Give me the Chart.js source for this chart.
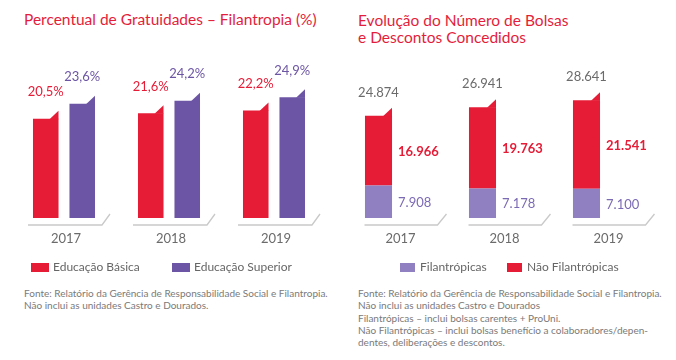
<!DOCTYPE html>
<html>
<head>
<meta charset="utf-8">
<script src="https://cdn.jsdelivr.net/npm/chart.js@4.4.1/dist/chart.umd.min.js"></script>
<style>
  body { margin: 0; width: 676px; height: 360px; background: #fff; position: relative; overflow: hidden; font-family: Lato, "Open Sans", sans-serif; }
  .abs { position: absolute; white-space: nowrap; }
  .title { color: #e31d3b; font-size: 15.5px; line-height: 17px; }
  .leg { font-size: 12px; line-height: 14px; color: #666; }
  .sw { position: absolute; width: 18px; height: 9px; }
  .note { color: #7a7a7a; font-size: 10px; line-height: 12.3px; }
  canvas { position: absolute; top: 0; }
</style>
</head>
<body>
<div class="abs title" style="left:24px;top:11px">Percentual de Gratuidades – Filantropia (%)</div>
<div class="abs title" style="left:358px;top:12px">Evolução do Número de Bolsas<br>e Descontos Concedidos</div>

<canvas id="left" width="338" height="260" style="left:0"></canvas>
<canvas id="right" width="356" height="260" style="left:320px"></canvas>

<!-- legends -->
<div class="sw" style="left:31px;top:263px;background:#e61b36"></div>
<div class="abs leg" style="left:53px;top:260px">Educação Básica</div>
<div class="sw" style="left:172px;top:263px;background:#6c55a4"></div>
<div class="abs leg" style="left:194px;top:260px">Educação Superior</div>

<div class="sw" style="left:400px;top:263px;width:15px;background:#9080c2"></div>
<div class="abs leg" style="left:420px;top:260px">Filantrópicas</div>
<div class="sw" style="left:507px;top:263px;width:15px;background:#e61b36"></div>
<div class="abs leg" style="left:527px;top:260px">Não Filantrópicas</div>

<!-- footnotes -->
<div class="abs note" style="left:24px;top:287px">Fonte: Relatório da Gerência de Responsabilidade Social e Filantropia.<br>Não inclui as unidades Castro e Dourados.</div>
<div class="abs note" style="left:358px;top:287px">Fonte: Relatório da Gerência de Responsabilidade Social e Filantropia.<br>Não inclui as unidades Castro e Dourados<br>Filantrópicas – inclui bolsas carentes + ProUni.<br>Não Filantrópicas – inclui bolsas benefício a colaboradores/depen-<br>dentes, deliberações e descontos.</div>

<script>
// ── Data ──────────────────────────────────────────────────────────────────
const YEARS = ['2017', '2018', '2019'];

const EDU_BASICA   = [20.5, 21.6, 22.2];
const EDU_SUPERIOR = [23.6, 24.2, 24.9];

const FILANTROPICAS     = [7908, 7178, 7100];
const NAO_FILANTROPICAS = [16966, 19763, 21541];
const TOTAIS            = [24874, 26941, 28641];

// ── Style ─────────────────────────────────────────────────────────────────
const RED     = '#e61b36';
const PURPLE  = '#6c55a4';
const LILAC   = '#9080c2';
const GRAY    = '#6b6b6b';
const LINE    = '#c9c9c9';
const FONT    = 'Lato, "Open Sans", sans-serif';

const pct = v => v.toFixed(1).replace('.', ',') + '%';
const milhar = v => String(v).replace(/\B(?=(\d{3})+(?!\d))/g, '.');

// baseline under each year with the little slanted end, plus the folded corner on bar tops
function drawBase(chart, from, to, slant) {
  const { ctx, chartArea } = chart;
  const xs = chart.scales.x;
  const y = chartArea.bottom + 7;
  ctx.save();
  ctx.strokeStyle = LINE;
  ctx.lineWidth = 1.3;
  YEARS.forEach((_, i) => {
    const cx = xs.getPixelForValue(i);
    ctx.beginPath();
    ctx.moveTo(cx + from, y);
    ctx.lineTo(cx + to, y);
    ctx.lineTo(cx + slant, y - 11);
    ctx.stroke();
  });
  ctx.restore();
}

function drawFold(chart, dsIndex) {
  const ctx = chart.ctx;
  chart.getDatasetMeta(dsIndex).data.forEach(bar => {
    const { x, y, width } = bar.getProps(['x', 'y', 'width'], true);
    const r = x + width / 2;
    ctx.save();
    ctx.fillStyle = bar.options.backgroundColor;
    ctx.beginPath();
    ctx.moveTo(r - 9, y + 0.5);
    ctx.lineTo(r, y - 8);
    ctx.lineTo(r, y + 0.5);
    ctx.closePath();
    ctx.fill();
    ctx.restore();
  });
}

function text(ctx, str, x, y, color, align, weight) {
  ctx.save();
  ctx.fillStyle = color;
  ctx.font = `${weight || 'normal'} 13px ${FONT}`;
  ctx.textAlign = align;
  ctx.textBaseline = 'middle';
  ctx.fillText(str, x, y);
  ctx.restore();
}

const xAxis = (offset) => ({
  grid: { display: false, drawTicks: false },
  border: { display: false },
  ticks: { color: GRAY, font: { size: 13, family: FONT }, padding: 13, labelOffset: offset },
  afterFit: a => { a.height = 40; },
});

// ── Left: percentual de gratuidades ───────────────────────────────────────
new Chart(document.getElementById('left'), {
  type: 'bar',
  data: {
    labels: YEARS,
    datasets: [
      { label: 'Educação Básica', data: EDU_BASICA, backgroundColor: RED,
        categoryPercentage: 0.695, barPercentage: 0.70 },
      { label: 'Educação Superior', data: EDU_SUPERIOR, backgroundColor: PURPLE,
        categoryPercentage: 0.695, barPercentage: 0.70 },
    ],
  },
  options: {
    responsive: false,
    animation: false,
    layout: { padding: { left: 11.5, right: 11.5, top: 0, bottom: 2 } },
    plugins: { legend: { display: false }, tooltip: { enabled: false } },
    scales: {
      x: xAxis(2),
      y: { display: false, min: 0, max: 45 },
    },
  },
  plugins: [{
    id: 'decorLeft',
    afterDatasetsDraw(chart) {
      drawBase(chart, -36, 38, 46);
      drawFold(chart, 0);
      drawFold(chart, 1);
      const ctx = chart.ctx;
      [[EDU_BASICA, RED], [EDU_SUPERIOR, PURPLE]].forEach(([vals, color], d) => {
        chart.getDatasetMeta(d).data.forEach((bar, i) => {
          text(ctx, pct(vals[i]), bar.x, bar.y - 27, color, 'center');
        });
      });
    },
  }],
});

// ── Right: bolsas e descontos ─────────────────────────────────────────────
new Chart(document.getElementById('right'), {
  type: 'bar',
  data: {
    labels: YEARS,
    datasets: [
      { label: 'Filantrópicas', data: FILANTROPICAS, backgroundColor: LILAC,
        categoryPercentage: 1, barPercentage: 0.26 },
      { label: 'Não Filantrópicas', data: NAO_FILANTROPICAS, backgroundColor: RED,
        categoryPercentage: 1, barPercentage: 0.26 },
    ],
  },
  options: {
    responsive: false,
    animation: false,
    layout: { padding: { left: 6.5, right: 37.5, top: 0, bottom: 2 } },
    plugins: { legend: { display: false }, tooltip: { enabled: false } },
    scales: {
      x: { ...xAxis(22), stacked: true },
      y: { display: false, stacked: true, min: 0, max: 53000 },
    },
  },
  plugins: [{
    id: 'decorRight',
    afterDatasetsDraw(chart) {
      drawBase(chart, -14, 59, 68);
      drawFold(chart, 1);
      const ctx = chart.ctx;
      const low = chart.getDatasetMeta(0).data;
      const high = chart.getDatasetMeta(1).data;
      YEARS.forEach((_, i) => {
        const a = low[i], b = high[i];
        const r = a.x + a.width / 2 + 6;
        text(ctx, milhar(TOTAIS[i]), b.x, b.y - 23, GRAY, 'center');
        text(ctx, milhar(NAO_FILANTROPICAS[i]), r, (b.y + b.base) / 2 + 1, RED, 'left', 'bold');
        text(ctx, milhar(FILANTROPICAS[i]), r, (a.y + a.base) / 2 + 1, '#7b6ab4', 'left');
      });
    },
  }],
});
</script>
</body>
</html>
